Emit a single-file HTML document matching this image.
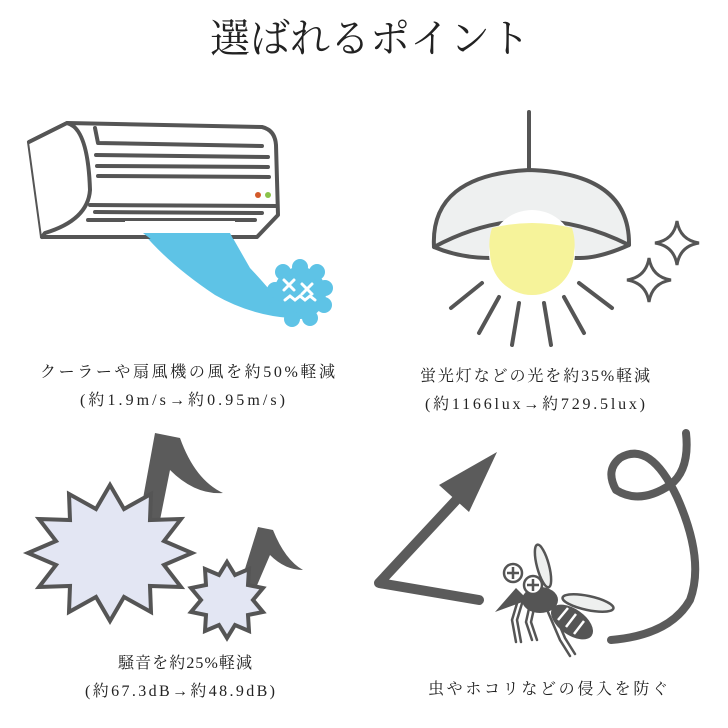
<!DOCTYPE html>
<html><head><meta charset="utf-8"><style>
html,body{margin:0;padding:0;background:#fff;width:728px;height:728px;overflow:hidden}
svg{display:block}
text{font-family:"Liberation Serif","Noto Serif CJK JP",serif;fill:#222}
</style></head><body>
<svg width="728" height="728" viewBox="0 0 728 728" xmlns="http://www.w3.org/2000/svg">
<text x="370" y="52" font-size="40" text-anchor="middle" fill="#111" style="font-family:'Noto Serif CJK JP',serif">選ばれるポイント</text>

<!-- Air conditioner -->
<g fill="none" stroke="#555" stroke-width="4" stroke-linejoin="round" stroke-linecap="round">
<path d="M143 233 L230 233 L250 268 Q280 300 290 318 Q250 315 215 295 Q170 265 143 233Z" fill="#5ec3e6" stroke="none"/>
<path d="M29 142 L67 123 L262 127 Q275 130 276 145 L278 215 L257 237 L42 237 Z" fill="#fff"/>
<path d="M29 142 L67 123 Q88 128 90 190 Q88 220 45 233 L42 237" fill="#fff"/>
<path d="M95 128 L98 143 L262 146"/>
<line x1="96" y1="155" x2="268" y2="157"/>
<line x1="97" y1="166" x2="268" y2="167"/>
<line x1="98" y1="176" x2="269" y2="177"/>
<line x1="90" y1="205" x2="277" y2="206"/>
<line x1="95" y1="212" x2="262" y2="213"/>
<line x1="88" y1="220" x2="255" y2="220"/>
</g>
<rect x="125" y="221" width="110" height="12" fill="#fff"/>
<path d="M143 233 L230 233 L245 262 L180 262 Z" fill="#5ec3e6"/>
<circle cx="258" cy="195" r="3" fill="#d35a2a"/>
<circle cx="268" cy="195" r="3" fill="#8bc34a"/>
<g fill="#5ec3e6">
<circle cx="300" cy="293" r="26"/>
<circle cx="283" cy="272" r="8"/><circle cx="300" cy="267" r="8"/><circle cx="317" cy="272" r="8"/>
<circle cx="325" cy="288" r="8"/><circle cx="324" cy="305" r="8"/><circle cx="310" cy="318" r="8"/>
<circle cx="292" cy="319" r="8"/><circle cx="277" cy="308" r="8"/><circle cx="275" cy="290" r="8"/>
</g>
<g stroke="#fff" stroke-width="3" stroke-linecap="round" fill="none">
<path d="M284 280 l10 10 M294 280 l-10 10 M302 284 l10 10 M312 284 l-10 10"/>
<path d="M285 300 l5 -4 l5 4 l5 -4 l5 4 l5 -4 l5 4"/>
</g>

<!-- Lamp -->
<g stroke="#555" stroke-width="4" fill="none" stroke-linecap="round" stroke-linejoin="round">
<line x1="529" y1="112" x2="529" y2="170"/>
<path d="M434 247 Q430 175 529 170 Q630 173 629 245 Q600 258 580 258 L490 258 Q460 258 434 247Z" fill="#eef0f0"/>
<path d="M434 247 Q530 195 629 245"/>
</g>
<circle cx="532" cy="253" r="43" fill="#fff"/>
<path d="M492 228 Q532 218 572 228 Q576 240 574 253 A42 42 0 0 1 490 253 Q488 240 492 228Z" fill="#f6f39a"/>
<g stroke="#555" stroke-width="4" stroke-linecap="round" fill="none">
<line x1="482" y1="283" x2="451" y2="308"/>
<line x1="499" y1="297" x2="479" y2="333"/>
<line x1="519" y1="303" x2="512" y2="345"/>
<line x1="544" y1="303" x2="551" y2="345"/>
<line x1="564" y1="297" x2="584" y2="333"/>
<line x1="579" y1="283" x2="612" y2="308"/>
<path d="M677 221 Q680 240 699 243 Q680 246 677 265 Q674 246 655 243 Q674 240 677 221Z" fill="#fff" stroke-width="3"/>
<path d="M649 258 Q652 277 671 280 Q652 283 649 302 Q646 283 627 280 Q646 277 649 258Z" fill="#fff" stroke-width="3"/>
</g>
<text x="40" y="377" font-size="16" textLength="295" lengthAdjust="spacing">クーラーや扇風機の風を約50%軽減</text>
<text x="80" y="405" font-size="16" textLength="205" lengthAdjust="spacing">(約1.9m/s→約0.95m/s)</text>
<text x="420" y="381" font-size="16" textLength="230" lengthAdjust="spacing">蛍光灯などの光を約35%軽減</text>
<text x="425" y="409" font-size="16" textLength="220" lengthAdjust="spacing">(約1166lux→約729.5lux)</text>

<!-- Notes -->
<path d="M155 433 L180 438 Q195 480 223 493 Q195 495 170 470 L160 520 L140 515 Z" fill="#5b5b5b"/>
<path d="M258 527 L273 530 Q285 560 303 570 Q285 570 270 555 L255 590 L240 585 Z" fill="#5b5b5b"/>
<g stroke="#555" stroke-width="4" stroke-linejoin="miter" fill="#e3e6f3">
<path d="M192 553 L164 565 L181 587 L150 586 L151 612 L124 597 L110 621 L96 597 L69 612 L70 586 L39 587 L56 565 L28 553 L56 541 L39 519 L70 520 L69 494 L96 509 L110 485 L124 509 L151 494 L150 520 L181 519 L164 541 Z"/>
<path d="M227 562 L235 575 L249 569 L248 585 L263 588 L253 600 L263 612 L248 615 L249 631 L235 625 L227 638 L219 625 L205 631 L206 615 L191 612 L201 600 L191 588 L206 585 L205 569 L219 575 Z"/>
</g>
<text x="118" y="668" font-size="16" textLength="134" lengthAdjust="spacing">騒音を約25%軽減</text>
<text x="85" y="696" font-size="16" textLength="190" lengthAdjust="spacing">(約67.3dB→約48.9dB)</text>

<!-- Arrow and loop -->
<g stroke="#5b5b5b" stroke-width="10" stroke-linecap="round" stroke-linejoin="round" fill="none">
<path d="M479 600 L379 583 L460 496"/>
<path d="M686 433 Q690 470 670 485 Q640 505 616 490 Q605 470 620 458 Q650 440 677 497 Q705 560 690 600 Q670 635 611 640" stroke-width="8"/>
</g>
<path d="M497 452 L439 485 L469 512 Z" fill="#5b5b5b"/>

<!-- Mosquito -->
<g stroke="#555" stroke-width="2.5" fill="#eef0ef">
<ellipse cx="543" cy="566" rx="6" ry="22" transform="rotate(-15 543 566)"/>
</g>
<g stroke="#555" stroke-width="2.5" fill="none" stroke-linecap="round">
<path d="M518 600 L512 620 L516 642 M523 600 L517 620 L521 642"/>
<path d="M530 604 L526 622 L532 640 M535 604 L531 622 L537 640"/>
<path d="M548 612 L560 640 L570 656 M553 610 L565 638 L575 654"/>
</g>
<path d="M495 612 L516 588 L528 600 Z" fill="#555"/>
<ellipse cx="540" cy="600" rx="18" ry="13" fill="#555"/>
<ellipse cx="572" cy="622" rx="24" ry="13" transform="rotate(35 572 622)" fill="#555"/>
<g stroke="#fff" stroke-width="2.5">
<line x1="568" y1="608" x2="558" y2="620"/><line x1="576" y1="614" x2="566" y2="627"/><line x1="584" y1="621" x2="574" y2="634"/>
</g>
<ellipse cx="588" cy="603" rx="26" ry="7" transform="rotate(12 588 603)" fill="#eef0ef" stroke="#555" stroke-width="2.5"/>
<g stroke="#555" stroke-width="2.5" fill="#fff">
<circle cx="513" cy="573" r="9"/><circle cx="533" cy="585" r="9"/>
<path d="M513 567 v12 M507 573 h12 M533 579 v12 M527 585 h12" fill="none"/>
</g>
<text x="428" y="694" font-size="16" textLength="240" lengthAdjust="spacing">虫やホコリなどの侵入を防ぐ</text>
</svg>
</body></html>
